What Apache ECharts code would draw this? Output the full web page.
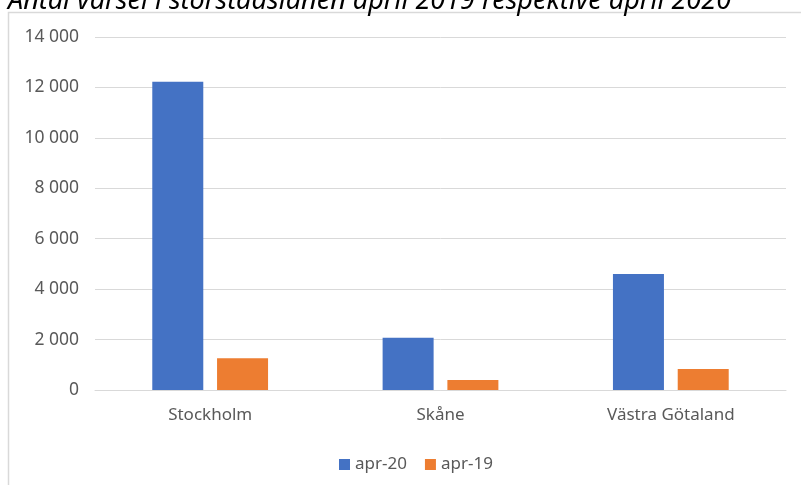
<!DOCTYPE html>
<html>
<head>
<meta charset="utf-8">
<script src="https://cdn.jsdelivr.net/npm/echarts@6/dist/echarts.min.js"></script>
<style>
    html, body { margin: 0; padding: 0; background: #fff; }
    #chart { width: 801px; height: 485px; }
</style>
</head>
<body>
<div id="chart"></div>
<script>
// data
const regions = ['Stockholm', 'Skåne', 'Västra Götaland'];
const apr20 = [12230, 2075, 4600];
const apr19 = [1260, 400, 830];
const seriesNames = ['apr-20', 'apr-19'];

const fontFamily = 'Noto Sans';
const labelColor = '#595959';

const chart = echarts.init(document.getElementById('chart'));

function fmt(v) {
    // space as thousands separator, like the source
    return String(v).replace(/\B(?=(\d{3})+(?!\d))/g, ' ');
}

const option = {
    backgroundColor: '#fff',
    animation: false,
    graphic: [
        {
            type: 'rect',
            shape: { x: 8.5, y: 12.5, width: 820, height: 500 },
            style: { fill: 'none', stroke: '#d9d9d9', lineWidth: 1.5 },
            silent: true
        },
        {
            type: 'text',
            left: 8,
            top: -12,
            style: {
                text: 'Antal varsel i storstadslänen april 2019 respektive april 2020',
                font: 'italic 27px ' + fontFamily,
                fill: '#000'
            },
            silent: true
        }
    ],
    grid: { left: 95, right: 15, top: 37, bottom: 95 },
    legend: {
        top: 451,
        left: 334,
        itemWidth: 11,
        itemHeight: 11,
        itemGap: 18,
        icon: 'rect',
        textStyle: { color: labelColor, fontSize: 17, fontFamily: fontFamily },
        data: seriesNames
    },
    xAxis: {
        type: 'category',
        data: regions,
        axisLine: { lineStyle: { color: '#d9d9d9', width: 1 } },
        axisTick: { show: false },
        axisLabel: { color: labelColor, fontSize: 17, fontFamily: fontFamily, margin: 17 }
    },
    yAxis: {
        type: 'value',
        min: 0,
        max: 14000,
        interval: 2000,
        axisLine: { show: false },
        axisTick: { show: false },
        splitLine: { lineStyle: { color: '#d9d9d9', width: 1 } },
        axisLabel: {
            color: labelColor,
            fontSize: 17.5,
            fontFamily: fontFamily,
            margin: 16,
            formatter: fmt
        }
    },
    series: [
        {
            name: seriesNames[0],
            type: 'bar',
            data: apr20,
            barWidth: 51,
            barGap: '27%',
            itemStyle: { color: '#4472c4' }
        },
        {
            name: seriesNames[1],
            type: 'bar',
            data: apr19,
            barWidth: 51,
            itemStyle: { color: '#ed7d31' }
        }
    ]
};

chart.setOption(option);
</script>
</body>
</html>
